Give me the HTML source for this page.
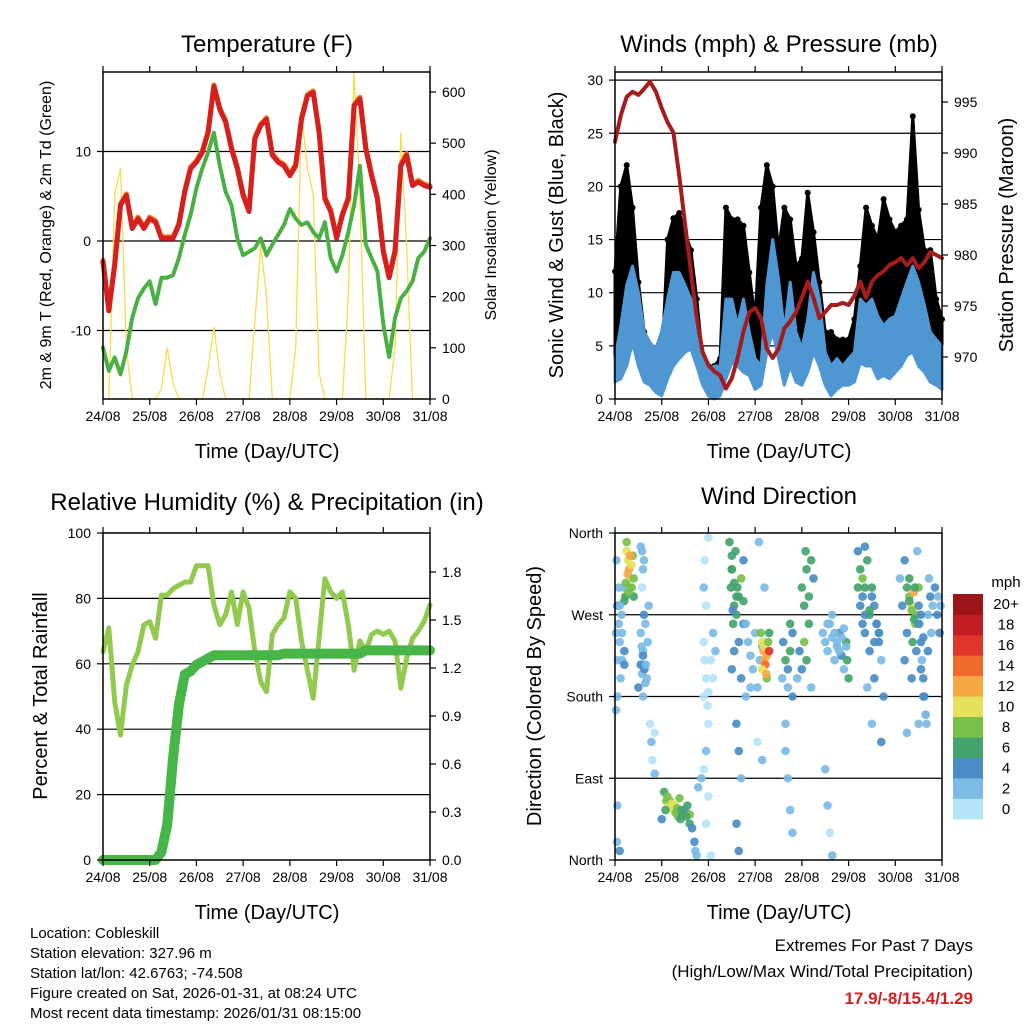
<!DOCTYPE html>
<html><head><meta charset="utf-8"><style>
html,body{margin:0;padding:0;background:#fff}
svg{display:block;font-family:"Liberation Sans",sans-serif}
</style></head><body>
<svg id="s" width="1024" height="1024" viewBox="0 0 1024 1024">
<rect width="1024" height="1024" fill="#fff"/>
<text x="267" y="52" font-size="24" text-anchor="middle">Temperature (F)</text>
<text x="779" y="52" font-size="24" text-anchor="middle">Winds (mph) &amp; Pressure (mb)</text>
<text x="267" y="510" font-size="24" text-anchor="middle">Relative Humidity (%) &amp; Precipitation (in)</text>
<text x="779" y="504" font-size="24" text-anchor="middle">Wind Direction</text>
<text x="267" y="458" font-size="20" text-anchor="middle">Time (Day/UTC)</text>
<text x="779" y="458" font-size="20" text-anchor="middle">Time (Day/UTC)</text>
<text x="267" y="919" font-size="20" text-anchor="middle">Time (Day/UTC)</text>
<text x="779" y="919" font-size="20" text-anchor="middle">Time (Day/UTC)</text>
<text transform="translate(51,235) rotate(-90)" font-size="16" text-anchor="middle">2m &amp; 9m T (Red, Orange) &amp; 2m Td (Green)</text>
<text transform="translate(496,235) rotate(-90)" font-size="16" text-anchor="middle">Solar Insolation (Yellow)</text>
<text transform="translate(563,235) rotate(-90)" font-size="20" text-anchor="middle">Sonic Wind &amp; Gust (Blue, Black)</text>
<text transform="translate(1013,235) rotate(-90)" font-size="20" text-anchor="middle">Station Pressure (Maroon)</text>
<text transform="translate(47,696) rotate(-90)" font-size="20" text-anchor="middle">Percent &amp; Total Rainfall</text>
<text transform="translate(541,696) rotate(-90)" font-size="20" text-anchor="middle">Direction (Colored By Speed)</text>
<g font-size="15">
<text x="30" y="938">Location: Cobleskill</text>
<text x="30" y="958">Station elevation: 327.96 m</text>
<text x="30" y="978">Station lat/lon: 42.6763; -74.508</text>
<text x="30" y="998">Figure created on Sat, 2026-01-31, at 08:24 UTC</text>
<text x="30" y="1018">Most recent data timestamp: 2026/01/31 08:15:00</text>
</g>
<g font-size="17" text-anchor="end">
<text x="973" y="951">Extremes For Past 7 Days</text>
<text x="973" y="977">(High/Low/Max Wind/Total Precipitation)</text>
<text x="973" y="1004" fill="#d42020" font-weight="bold">17.9/-8/15.4/1.29</text>
</g>
<g id="g"></g>
</svg>
<script>
// ---- data (3-hourly, 57 samples from 24/08 00Z) ----
const dayLabels=["24/08","25/08","26/08","27/08","28/08","29/08","30/08","31/08"];
const tempRed=[-2.3,-7.8,-2.7,4,5.1,1.4,2.5,1.4,2.5,2.1,0.3,0.3,0.3,1.8,5.5,8.1,8.8,9.9,12.1,17.3,14.7,13.3,10.3,8.1,5.1,3.3,11.4,12.9,13.6,9.6,8.8,8.4,7.3,8.4,13.6,16.2,16.6,12.1,4.7,3.3,0.3,2.9,4.7,15.1,15.9,10.3,7.3,4.7,-1.2,-4.1,-1.2,8.4,9.6,6.2,6.6,6.2,6.0];
const tempGreen=[-11.9,-14.5,-13,-14.9,-12.3,-8.6,-6.4,-5.3,-4.5,-7.1,-4.1,-4.1,-3.8,-1.9,0.7,2.9,5.9,8.1,9.9,12.1,8.4,5.5,4,0.3,-1.6,-1.2,-0.8,0.3,-1.6,-0.4,0.7,1.8,3.6,2.5,1.8,2.1,1,0.3,2.1,-1.9,-3.4,-1.6,1,4,8.4,-0.4,-1.9,-3.4,-9.3,-13,-8.6,-6.4,-5.6,-4.5,-1.9,-1.2,0.3];
const solar=[0,0,400,450,100,0,0,0,0,0,20,100,30,0,0,0,0,0,60,140,50,0,0,0,0,0,150,300,200,0,0,0,0,100,560,450,400,50,0,0,0,0,200,640,400,0,0,0,0,0,100,520,300,0,0,0,0];
const windHi=[3.8,6.9,10.7,12.5,10,6.3,5.3,4.7,6.3,9.4,11.9,11.9,10.7,9.4,7.5,4.4,2.8,3.1,3.1,9.4,9.4,6.9,9.4,6.3,3.8,3.1,10.7,15,11.3,6.3,11,6.3,4.7,7.5,11.9,9.4,4.4,3.1,3.8,3.1,3.8,4.4,9.4,8.8,9.4,7.8,6.9,7.5,7.8,9.4,11,12.5,11,8.8,6.3,5.6,5];
const windLo=[1.6,1.9,3.1,5.3,3.1,1.6,1.3,0.6,0.3,1.9,3.1,3.8,4.4,4.7,3.1,1.3,0.3,0,0.3,1.9,3.4,3.1,2.5,2.2,0.9,1.3,4.4,6.3,3.8,1.3,3.1,1.6,1.3,2.5,4.4,3.1,1.3,0.3,0.9,1.3,1.3,1.6,3.4,3.1,3.1,1.9,2.2,1.9,2.5,3.1,4.1,4.4,3.1,2.5,1.6,1.3,0.9];
const gustHi=[12,20,22,18,11,6.3,4.7,4.7,3.1,15,17,17.5,15.7,14,9.4,3.8,3.1,3.1,3.8,18,16.9,16.9,16.3,11.9,7.5,18,22,20,14,18,16.9,12.5,13.2,19.4,15.7,11,6.3,6.3,5.6,5.6,5.6,7.5,12.5,18,16.3,15,18.8,16.9,15.7,16.3,16.9,26.6,17.8,14,14,9.4,7.5];
const pressure=[991.1,993.7,995.5,996,995.7,996.3,997,996,994.4,993,992,987.8,983,978.4,973.8,970.5,969.2,968.6,968.2,966.9,967.9,969.9,972.5,974.4,974.8,973.8,970.8,969.9,970.8,972.8,973.5,974.4,975.8,977.4,975.8,973.8,974.4,975.1,975.1,975.3,975.1,976,977.4,975.8,977.4,978,978.4,979,979.3,979.7,979,979.7,978.7,979.3,980.3,980,979.7];
const rh=[63.7,71,48.4,38.2,53.5,59.6,63.7,71.9,72.9,67.8,81,81,83,84,85,85,90,90,90,78,72,75,82,72,82,77,64,54.5,51.5,69,72,74,82,80,67,58,49.5,68,86,82,80,82,72,58,67,64,69,70,69,70,67,52.5,61.6,67.8,70,73,78];
const precip=[0,0,0,0,0,0,0,0,0,0,0.05,0.22,0.64,0.97,1.16,1.18,1.22,1.24,1.26,1.28,1.28,1.28,1.28,1.28,1.28,1.28,1.28,1.28,1.28,1.28,1.28,1.29,1.29,1.29,1.29,1.29,1.29,1.29,1.29,1.29,1.29,1.29,1.29,1.29,1.29,1.31,1.31,1.31,1.31,1.31,1.31,1.31,1.31,1.31,1.31,1.31,1.31];
// wind direction samples: day, degrees, speed
const dirDay=[0.25,0.28,0.3,0.33,0.36,0.3,0.22,0.35,0.27,0.38,0.25,0.4,0.2,
0.03,0.05,0.08,0.1,0.06,0.12,0.02,0.05,0.04,0.1,0.15,0.2,0.14,0.18,
0.55,0.6,0.58,0.62,0.55,0.6,0.62,0.58,0.65,0.55,0.68,0.6,0.65,0.7,0.75,0.78,0.8,0.85,0.85,0.72,0.5,
1.05,1.1,1.15,1.2,1.25,1.3,1.35,1.4,1.45,1.5,1.55,1.6,1.18,1.08,1.28,1.6,1.65,1.0,1.7,1.72,1.75,1.78,
1.9,1.92,1.95,1.9,1.98,2.0,1.95,1.9,1.85,2.0,1.95,2.05,1.9,1.92,2.0,1.95,
2.45,2.5,2.48,2.55,2.6,2.65,2.7,2.53,2.62,2.5,2.75,2.75,2.65,2.55,2.7,2.8,2.5,2.6,2.65,2.7,2.6,2.65,2.75,2.8,
2.85,2.9,2.95,3.0,3.05,3.1,3.15,2.9,3.05,3.15,3.08,3.2,
3.15,3.18,3.2,3.22,3.25,3.2,3.15,3.25,3.28,3.12,3.3,3.24,3.3,
3.6,3.65,3.7,3.75,3.8,3.58,3.7,3.8,3.65,3.7,3.75,3.8,3.65,3.75,
3.95,4.0,4.05,4.1,4.15,4.05,4.0,4.1,4.08,4.2,4.15,3.9,4.2,4.25,
4.45,4.5,4.55,4.6,4.65,4.7,4.75,4.8,4.85,4.65,4.55,4.9,4.5,4.55,4.6,4.65,4.95,4.97,5.0,
5.25,5.3,5.35,5.4,5.2,5.25,5.3,5.35,5.45,5.5,5.55,5.6,5.65,5.7,5.55,5.45,5.4,5.75,5.65,5.35,5.5,5.7,5.2,
6.25,6.3,6.35,6.4,6.45,6.43,6.3,6.37,6.45,6.25,6.2,6.35,6.55,6.6,6.65,6.5,6.25,6.15,6.2,6.1,6.47,6.5,
6.5,6.52,6.55,6.57,6.6,6.62,6.65,6.67,6.7,6.75,6.8,6.85,6.9,6.95,6.97,6.72,6.77,6.92,
0.23,0.32,0.29,0.4,0.08,0.1,0.02,0.15,0.2,0.05,0.6,0.63,0.57,0.66,0.62,0.58,
1.12,1.22,1.33,1.42,1.52,1.38,2.05,2.1,2.0,2.15,2.1,2.5,2.55,2.6,2.52,2.58,
4.7,4.75,4.8,4.85,4.9,4.95,5.3,5.35,5.45,5.5,5.6,5.65,5.55,6.3,6.35,6.4,6.42,6.5,6.55,6.6,6.7];
const dirDeg=[340,330,320,310,300,300,290,325,315,335,350,290,285,
330,280,260,240,220,200,165,60,20,10,250,230,270,300,
345,320,300,270,250,230,215,205,195,215,200,180,260,240,150,130,110,140,95,280,190,
75,65,60,58,55,52,48,45,50,55,60,50,65,55,60,40,35,45,20,10,5,80,
240,220,200,180,170,150,120,100,90,70,40,5,300,330,355,280,
350,320,300,280,270,290,310,260,300,335,285,260,240,230,200,180,210,150,120,90,40,10,330,260,
240,225,210,250,190,220,235,190,130,110,350,300,
240,230,220,215,225,235,210,200,240,250,230,205,250,
240,220,210,230,250,200,190,180,120,90,55,30,150,260,
230,210,240,220,260,280,300,320,340,330,290,200,190,310,
250,240,230,260,245,220,235,250,225,270,260,210,100,60,30,5,240,220,200,
320,310,300,330,300,280,260,250,270,290,280,260,240,220,200,230,190,180,250,345,150,130,340,
300,290,280,295,270,260,310,240,230,250,220,200,210,180,160,150,140,280,330,310,340,300,
280,260,240,220,200,180,160,150,270,290,280,300,270,250,280,310,250,290,
305,335,295,310,300,280,250,220,215,180,225,210,235,215,330,340,
70,62,57,55,48,68,220,200,185,230,250,320,305,290,275,340,
250,240,230,245,255,235,290,270,275,300,260,250,240,285,275,265,300,260,270,245,230];
const dirSpd=[10,11,12,10,9,8,7,10,13,8,9,7,6,
3,4,3,2,3,2,3,2,3,4,3,4,2,3,
2,2,1,4,2,3,4,3,2,4,3,2,2,3,1,2,1,1,2,2,4,
6,8,10,11,10,9,8,7,6,5,7,8,9,7,10,6,5,4,4,3,2,3,
1,1,0,1,1,1,2,1,3,1,1,0,2,1,0,0,
6,7,6,6,6,7,8,6,6,7,6,4,4,4,4,3,4,4,4,3,4,4,4,3,
2,2,3,2,3,2,3,2,1,2,2,2,
10,12,13,14,12,11,10,9,8,8,16,12,7,
4,6,4,6,4,3,3,4,3,2,3,3,2,6,
4,4,8,6,6,6,6,6,7,6,6,3,3,4,
2,2,3,2,3,3,2,4,4,2,2,3,2,2,1,2,6,6,7,
7,8,7,6,6,4,4,4,6,4,4,4,4,3,4,4,3,4,6,4,3,4,4,
6,8,10,12,9,8,6,6,4,4,4,4,4,4,3,3,3,4,4,3,2,8,
4,3,4,3,4,4,3,2,3,4,3,4,4,4,3,2,3,2,
8,12,9,8,3,2,3,3,4,2,4,4,3,3,2,2,
8,11,9,7,6,8,1,0,0,2,2,6,7,6,4,7,
2,2,3,2,2,3,4,4,6,6,4,4,4,6,8,6,6,4,4,4,4];
const speedLevels=["0","2","4","6","8","10","12","14","16","18","20+"];
const speedColors=["#b5e3f8","#7cbbe5","#4a8dc6","#45a46c","#78c04a","#e5e15a","#f7a845","#f06a2a","#e0352a","#c21c25","#9b1519"];

const NS="http://www.w3.org/2000/svg";
const G=document.getElementById('g');
function el(tag,attrs,parent){const e=document.createElementNS(NS,tag);for(const k in attrs)e.setAttribute(k,attrs[k]);(parent||G).appendChild(e);return e;}
function txt(x,y,s,size,anchor,parent){const t=el('text',{x:x,y:y,'font-size':size,'text-anchor':anchor},parent);t.textContent=s;return t;}

const panels=[{x0:103,x1:430,y0:72,y1:399},{x0:615,x1:942,y0:72,y1:399},{x0:103,x1:430,y0:533,y1:860},{x0:615,x1:942,y0:533,y1:860}];
const DAYW=327/7;
function xs(p,day){return p.x0+day*DAYW;}
function tIdx(i){return i*3/24;}

function hgrid(p,y){const l=el('line',{x1:p.x0,x2:p.x1,y1:y,y2:y,stroke:'#000','stroke-width':1.2});

}
function frame(p,name){
 const r=el('rect',{x:p.x0,y:p.y0,width:p.x1-p.x0,height:p.y1-p.y0,fill:'none',stroke:'#000','stroke-width':1.5});
 
 
 for(let d=0;d<=7;d++){const x=xs(p,d);
  el('line',{x1:x,x2:x,y1:p.y1,y2:p.y1+6,stroke:'#000','stroke-width':1.2});
  el('line',{x1:x,x2:x,y1:p.y0,y2:p.y0-6,stroke:'#000','stroke-width':1.2});
  const t=txt(x,p.y1+22,dayLabels[d],14,'middle');
  
  
 }
}
function yTick(p,y,label,side){
 if(side==='l'){el('line',{x1:p.x0-6,x2:p.x0,y1:y,y2:y,stroke:'#000','stroke-width':1.2});
  const t=txt(p.x0-12,y+5,label,14,'end');
  
  }
 else {el('line',{x1:p.x1,x2:p.x1+6,y1:y,y2:y,stroke:'#000','stroke-width':1.2});
  const t=txt(p.x1+12,y+5,label,14,'start');
  
  }
}
function line(p,arr,ys,color,w,name,dash){
 const pts=arr.map((v,i)=>xs(p,tIdx(i)).toFixed(1)+','+ys(v).toFixed(1)).join(' ');
 const a={points:pts,fill:'none',stroke:color,'stroke-width':w,'stroke-linejoin':'round','stroke-linecap':'round'};
 if(dash)a['stroke-dasharray']=dash;
 const pl=el('polyline',a);
 
 
}
function band(p,lo,hi,ys,color,name){
 let pts=hi.map((v,i)=>xs(p,tIdx(i)).toFixed(1)+','+ys(v).toFixed(1));
 for(let i=lo.length-1;i>=0;i--)pts.push(xs(p,tIdx(i)).toFixed(1)+','+ys(lo[i]).toFixed(1));
 const pg=el('polygon',{points:pts.join(' '),fill:color,stroke:color,'stroke-width':3,'stroke-linejoin':'round'});
 
 
}

// Panel 1: temperature
{const p=panels[0];
 const yT=v=>241-v*8.95, yS=v=>399-v*0.5117;
 [-10,0,10].forEach(v=>hgrid(p,yT(v)));
 line(p,solar,yS,'#f8dc4e',1.3,'solar-line');
 line(p,tempGreen,yT,'#4bb044',4,'dewpoint-line','3 1.5');
 line(p,tempRed,v=>yT(v)-1.5,'#f2852d',5,'temp-9m-line');
 line(p,tempRed,yT,'#d42020',5,'temp-2m-line');
 frame(p,'temperature');
 [-10,0,10].forEach(v=>yTick(p,yT(v),String(v),'l'));
 [0,100,200,300,400,500,600].forEach(v=>yTick(p,yS(v),String(v),'r'));
}
// Panel 2: winds
{const p=panels[1];
 const yW=v=>399-v*10.63, yP=v=>357-(v-970)*10.2;
 [5,10,15,20,25,30].forEach(v=>hgrid(p,yW(v)));
 band(p,windHi,gustHi,yW,'#000','gust-band');
 gustHi.forEach((v,i)=>{const c=el('circle',{cx:xs(p,tIdx(i)),cy:yW(v),r:3,fill:'#000'});
  
  });
 band(p,windLo,windHi,yW,'#4f97d3','wind-band');
 line(p,pressure,yP,'#a51c1c',4,'pressure-line');
 frame(p,'winds');
 [0,5,10,15,20,25,30].forEach(v=>yTick(p,yW(v),String(v),'l'));
 [970,975,980,985,990,995].forEach(v=>yTick(p,yP(v),String(v),'r'));
}
// Panel 3: RH & precip
{const p=panels[2];
 const yR=v=>860-v*3.27, yI=v=>860-v*160;
 [20,40,60,80].forEach(v=>hgrid(p,yR(v)));
 line(p,rh,yR,'#92c94f',5,'rh-line');
 line(p,precip,yI,'#47b548',10,'precip-line');
 frame(p,'humidity');
 [0,20,40,60,80,100].forEach(v=>yTick(p,yR(v),String(v),'l'));
 ['0.0','0.3','0.6','0.9','1.2','1.5','1.8'].forEach(v=>yTick(p,yI(parseFloat(v)),v,'r'));
}
// Panel 4: wind direction
{const p=panels[3];
 const yD=v=>860-v*327/360;
 [90,180,270].forEach(v=>hgrid(p,yD(v)));
 dirDay.forEach((d,i)=>{let k=Math.min(10,Math.floor(dirSpd[i]/2));
  const c=el('circle',{cx:xs(p,d),cy:yD(dirDeg[i]),r:4.3,fill:speedColors[k],'fill-opacity':0.92});
  
  });
 frame(p,'direction');
 ['North','East','South','West','North'].forEach((s,i)=>yTick(p,yD(i*90),s,'l'));
 const t=txt(1006,587,'mph',15,'middle');
 
 
 const bh=225/11;
 speedColors.forEach((c,i)=>{const y=819-(i+1)*bh;
  const r=el('rect',{x:953,y:y,width:30,height:bh+0.3,fill:c});
  
  
  const l=txt(1006,y+bh/2+5,speedLevels[i],15,'middle');
  
  });
}
</script>
</body></html>
